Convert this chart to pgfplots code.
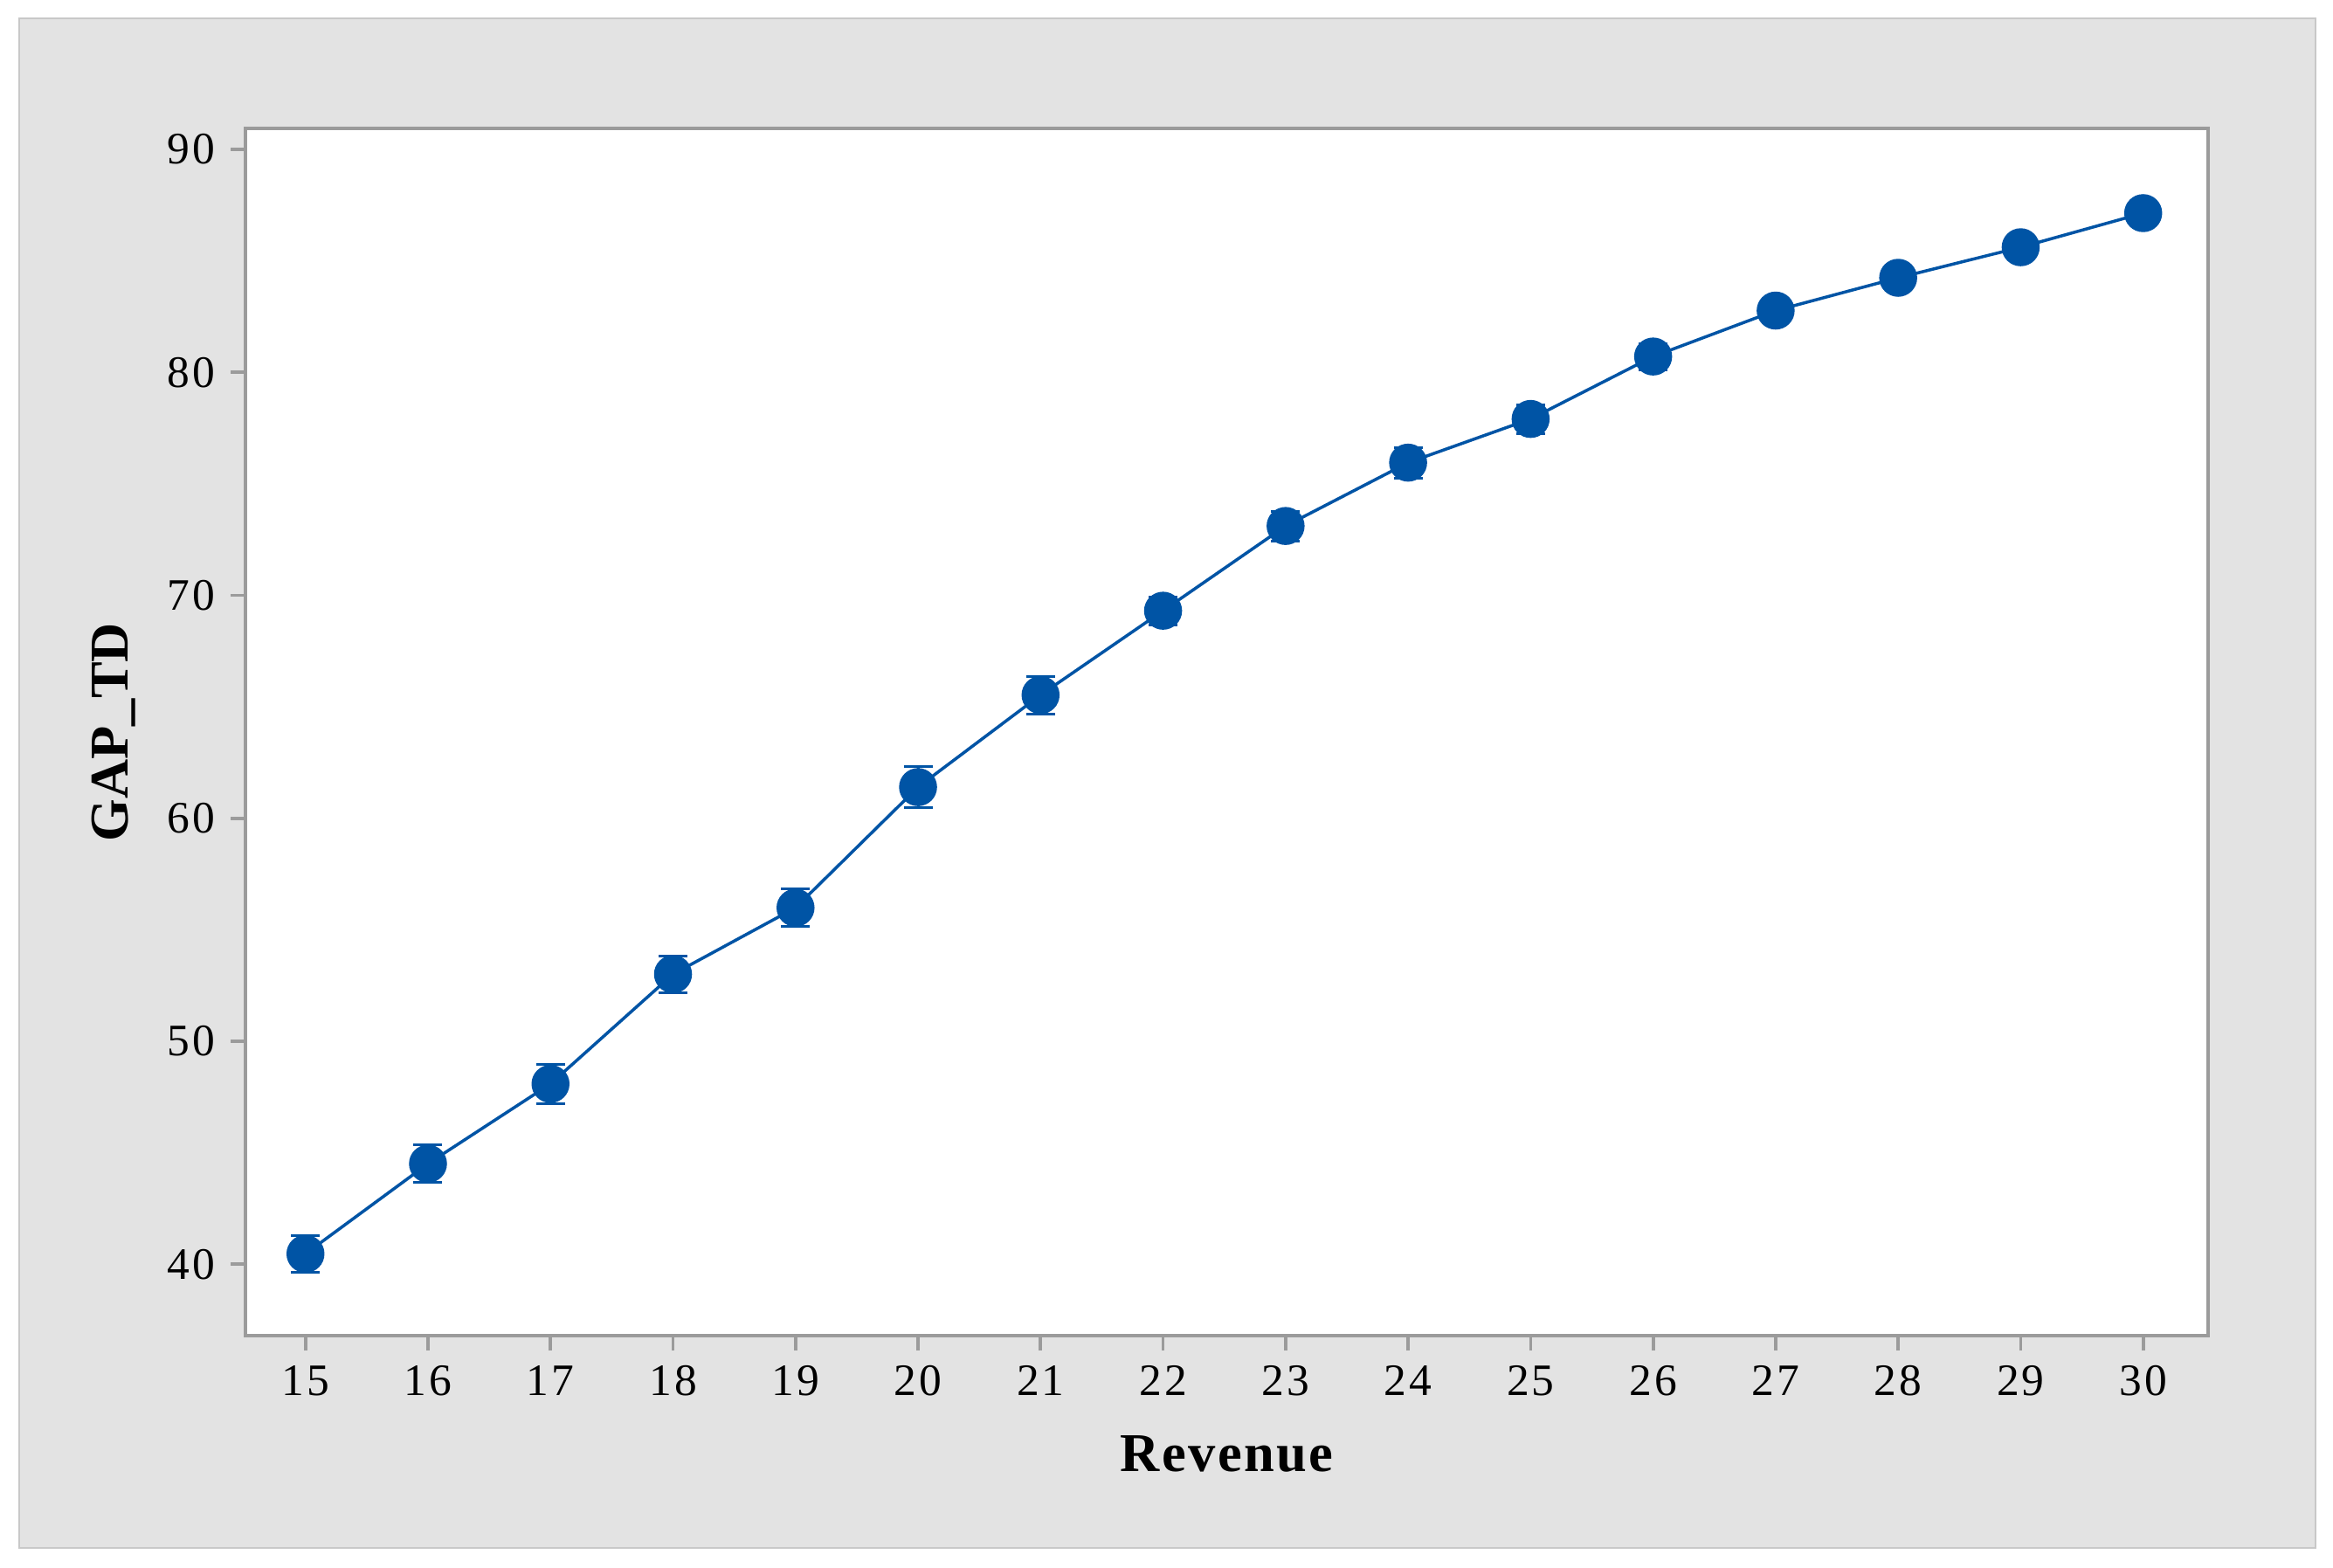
\documentclass[border=0pt]{standalone}
\usepackage{fontspec}
\setmainfont{Liberation Serif}
\usepackage{pgfplots}
\pgfplotsset{compat=1.18}
\definecolor{mtblue}{RGB}{0,84,165}
\definecolor{framegray}{RGB}{227,227,227}
\definecolor{edgegray}{RGB}{200,200,200}
\definecolor{axgray}{RGB}{155,155,155}

\pgfplotstableread{
x  y     e
15 40.47 0.82
16 44.51 0.85
17 48.09 0.88
18 53.01 0.82
19 55.99 0.85
20 61.40 0.92
21 65.53 0.84
22 69.31 0.63
23 73.11 0.67
24 75.95 0.69
25 77.91 0.65
26 80.71 0.59
27 82.77 0.45
28 84.24 0.38
29 85.61 0.47
30 87.14 0.41
}\gaptd

\begin{document}
\begin{tikzpicture}
\useasboundingbox (-56.2pt,-53pt) rectangle (478pt,305.8pt);
\fill[framegray, draw=edgegray, line width=0.5pt] (-51.8pt,-48.6pt) rectangle (474pt,301.6pt);
\begin{axis}[
    at={(0,0)}, anchor=south west,
    scale only axis,
    width=449.4pt, height=276.4pt,
    xmin=14.51, xmax=30.53,
    ymin=36.8, ymax=90.94,
    xtick={15,...,30},
    ytick={40,50,...,90},
    tick align=outside,
    xtick pos=bottom, ytick pos=left,
    major tick length=3.4pt,
    axis line style={axgray, line width=0.75pt},
    tick style={axgray, line width=0.75pt},
    axis background/.style={fill=white},
    ticklabel style={font=\fontsize{10.3}{12}\selectfont\addfontfeatures{LetterSpace=6}},
    /pgf/number format/assume math mode=true,
    xlabel={Revenue},
    ylabel={GAP\_TD},
    xlabel style={font=\fontsize{12.5}{14}\selectfont\bfseries\addfontfeatures{LetterSpace=4},
        at={(axis description cs:0.5,-0.098)}, anchor=center},
    ylabel style={font=\fontsize{12.5}{14}\selectfont\bfseries,
        at={(axis description cs:-0.067,0.5)}, anchor=center},
]
\addplot[mtblue, line width=0.7pt, mark=*, mark size=4pt,
    mark options={solid, fill=mtblue},
    error bars/.cd, y dir=both, y explicit,
    error bar style={line width=0.6pt, mtblue},
    error mark options={rotate=90, mtblue, line width=0.6pt, mark size=3.3pt}]
    table[x=x, y=y, y error=e] {\gaptd};
\end{axis}
\end{tikzpicture}
\end{document}
